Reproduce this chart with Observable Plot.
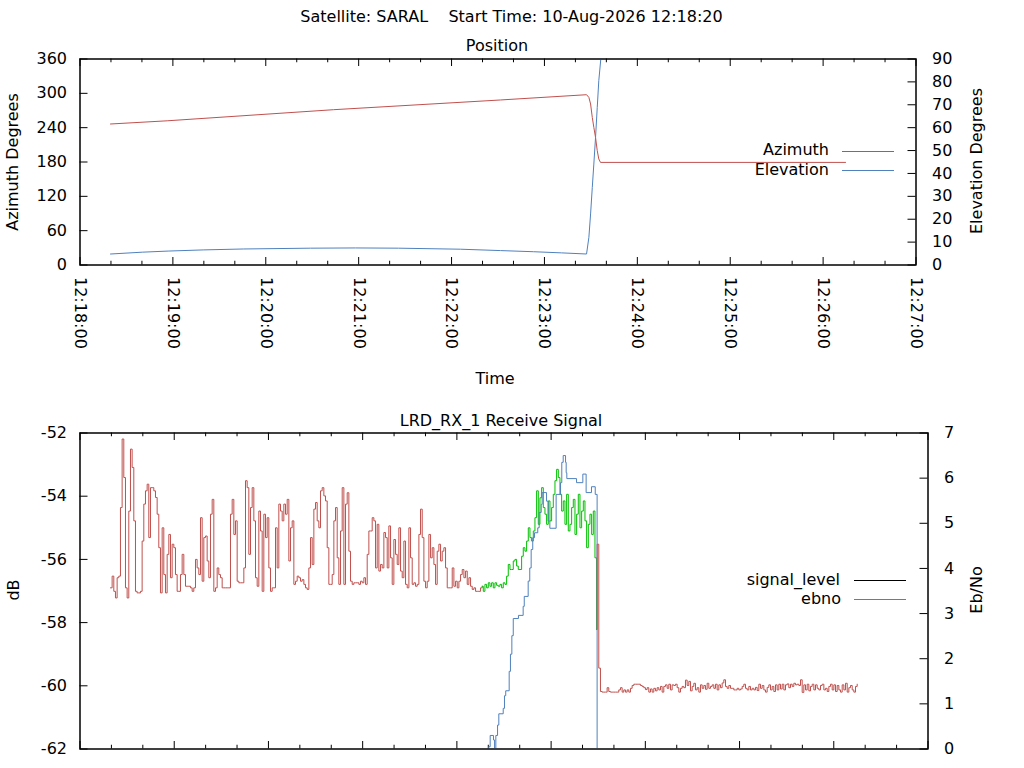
<!DOCTYPE html>
<html><head><meta charset="utf-8">
<script src="https://cdn.jsdelivr.net/npm/d3@7"></script>
<script src="https://cdn.jsdelivr.net/npm/@observablehq/plot@0.6"></script>
<style>
html,body{margin:0;padding:0;background:#fff;}
#page{position:relative;width:1024px;height:768px;overflow:hidden;font-family:"DejaVu Sans",sans-serif;font-size:16px;color:#000;background:#fff;}
.lbl{position:absolute;white-space:pre;line-height:16px;transform:translate(-50%,-50%);}
.lblv{position:absolute;white-space:pre;line-height:16px;transform:translate(-50%,-50%) rotate(-90deg);}
.lblr{position:absolute;white-space:pre;line-height:16px;text-align:right;}
.lg{position:absolute;height:0;border-top:1px solid #000;}
</style>
</head><body><div id="page"></div>
<script>
// ---------- data ----------
const timeBase = "2026-08-10T12:18:00Z";          // axis start, seconds below are offsets from it
const chartTitle = "Satellite: SARAL    Start Time: 10-Aug-2026 12:18:20";

// Position panel
const azSeconds = [19.7, 56.3, 163.8, 271.6, 327.2, 328.7, 329.8, 330.9, 331.9, 333.0, 334.1, 335.1, 336.2, 494.5];
const azValues  = [246.4, 252.0, 271.4, 288.4, 297.6, 292.9, 281.4, 257.9, 240.5, 223.0, 199.8, 185.3, 179.3, 179.3];
const elSeconds = [19.7, 40.2, 57.4, 80.0, 105.8, 148.9, 178.0, 205.7, 245.8, 271.6, 293.0, 311.0, 327.2, 328.7, 329.8, 330.9, 331.9, 333.0, 334.1, 335.1, 336.4, 337.5];
const elValues  = [4.8, 5.6, 6.1, 6.6, 7.0, 7.35, 7.45, 7.35, 6.9, 6.3, 5.8, 5.3, 4.8, 12.1, 22.3, 33.9, 44.1, 55.7, 68.8, 80.5, 90.0, 100.0];
const azTicks = [0, 60, 120, 180, 240, 300, 360];
const elTicks = [0, 10, 20, 30, 40, 50, 60, 70, 80, 90];

// Receive signal panel (signal level sampled at a regular interval)
const signalStep = 1.0616;
const signalStartA = 19.4;   // red, before lock
const signalLevelA = [
-56.90,-56.53,-57.01,-57.22,-56.58,-56.53,-54.36,-52.19,-53.41,-56.90,
-57.22,-54.47,-52.51,-53.09,-54.78,-57.01,-57.06,-57.06,-57.01,-55.42,
-54.25,-53.83,-53.62,-55.31,-53.73,-53.73,-53.83,-54.04,-54.57,-55.63,
-57.06,-55.00,-56.48,-57.06,-55.84,-55.21,-56.58,-55.52,-55.63,-56.48,
-57.01,-57.01,-56.48,-55.84,-56.48,-56.85,-56.85,-56.85,-56.90,-57.01,
-56.90,-56.00,-56.27,-56.48,-54.68,-56.69,-55.31,-55.26,-56.05,-56.58,
-54.57,-54.10,-57.01,-56.90,-56.27,-56.48,-56.58,-56.90,-56.90,-56.90,
-56.90,-56.90,-54.57,-54.10,-55.21,-54.78,-56.69,-56.74,-56.74,-56.74,
-56.27,-53.51,-53.73,-55.84,-54.36,-53.73,-54.78,-56.58,-56.85,-54.47,
-55.10,-57.01,-54.57,-55.31,-54.68,-56.27,-57.01,-56.90,-56.90,-55.00,
-56.27,-54.25,-54.47,-54.78,-54.25,-54.57,-54.10,-56.05,-55.00,-54.78,
-56.79,-56.69,-56.53,-56.58,-56.69,-56.64,-56.79,-56.90,-56.95,-56.27,
-55.31,-56.16,-54.41,-54.20,-54.78,-55.00,-53.83,-53.73,-53.99,-54.15,
-55.63,-56.79,-56.79,-56.48,-54.78,-54.36,-55.95,-56.79,-55.10,-53.73,
-56.79,-54.25,-53.89,-55.74,-56.69,-56.79,-56.74,-56.74,-56.74,-56.79,
-56.69,-56.74,-56.58,-56.79,-55.84,-55.10,-55.10,-54.68,-54.78,-56.27,
-54.89,-56.37,-56.16,-56.27,-55.15,-55.31,-56.27,-54.94,-55.95,-56.79,
-55.37,-55.84,-56.16,-55.00,-56.37,-56.58,-55.42,-56.79,-56.90,-55.00,
-55.95,-56.79,-56.74,-56.85,-56.79,-55.21,-54.41,-55.31,-56.69,-56.90,
-56.69,-55.21,-55.95,-55.63,-56.16,-56.79,-55.74,-55.52,-56.05,-55.74,
-55.63,-56.27,-56.90,-56.90,-56.90,-56.27,-56.85,-56.69,-56.90,-56.69,
-56.48,-56.32,-56.58,-56.37,-56.79,-56.58,-56.85,-56.95,-56.90,-57.01,
-57.01,-57.01,-56.90,-56.85];
const signalStartB = 256.8;  // green, locked
const signalLevelB = [
-57.01,-56.79,-56.90,-56.74,-56.85,-56.74,-56.90,-56.74,-56.82,-56.85,
-56.79,-56.90,-56.74,-56.79,-56.53,-56.16,-56.32,-56.32,-56.05,-56.00,
-56.21,-56.32,-56.32,-55.90,-55.63,-55.74,-55.42,-55.00,-55.31,-55.42,
-55.10,-54.68,-53.83,-54.89,-54.05,-53.73,-54.36,-54.57,-54.89,-54.15,
-54.78,-54.36,-53.94,-53.51,-53.15,-53.41,-53.94,-54.47,-54.15,-54.89,
-53.94,-55.10,-54.89,-54.36,-54.10,-55.21,-54.57,-53.94,-55.00,-54.47,
-54.15,-54.78,-55.63,-54.89,-54.57,-55.21,-54.47,-55.95,-58.22];
const signalStartC = 329.3;  // red, after loss of signal
const signalLevelC = [
-55.52,-59.44,-60.18,
-60.20,-60.20,-60.20,-60.06,-60.18,-60.20,-60.20,-60.20,-60.20,-60.20,
-60.13,-60.06,-60.20,-60.13,-60.20,-60.13,-60.20,-60.08,-59.99,-59.95,
-59.95,-59.95,-59.95,-59.99,-60.02,-60.06,-60.12,-60.06,-60.20,-60.10,
-60.20,-60.08,-60.16,-60.06,-60.13,-60.02,-60.20,-60.02,-59.97,-60.08,
-59.95,-60.13,-59.97,-59.99,-59.95,-60.06,-60.20,-60.08,-60.02,-60.06,
-59.82,-59.99,-59.86,-60.16,-60.02,-59.92,-60.13,-60.06,-60.20,-59.97,
-60.08,-59.99,-60.11,-59.92,-60.08,-60.02,-59.97,-60.08,-59.95,-60.13,
-59.97,-60.06,-59.91,-59.81,-60.02,-60.08,-59.99,-60.08,-60.08,-60.13,
-60.13,-60.08,-60.13,-60.10,-60.02,-59.95,-60.08,-60.13,-60.02,-60.13,
-60.08,-60.13,-60.05,-60.15,-59.95,-60.08,-59.99,-60.13,-60.20,-60.05,
-59.97,-60.13,-60.02,-60.18,-59.97,-60.13,-59.95,-60.10,-59.95,-60.13,
-59.97,-59.94,-60.06,-59.95,-60.02,-59.92,-59.97,-59.95,-59.99,-59.81,
-60.21,-59.97,-60.13,-59.95,-60.16,-60.02,-59.95,-60.13,-59.97,-60.08,
-60.13,-59.99,-59.95,-60.13,-60.08,-60.18,-60.02,-59.95,-60.13,-59.97,
-60.18,-59.99,-60.13,-60.20,-59.97,-60.13,-59.92,-60.20,-60.06,-59.99,
-60.13,-60.20,-60.02,-59.95];
const ebnoSeconds = [259.3,260.3,261.2,263.3,264.0,264.8,265.9,266.7,269.5,270.3,271.1,273.3,274.1,275.0,275.9,279.2,282.2,282.9,285.4,286.4,287.3,288.3,289.4,291.5,292.4,293.7,294.3,297.1,298.1,299.2,303.2,306.0,306.8,307.7,309.2,309.6,310.0,316.2,320.2,322.3,325.7,328.1,329.3];
const ebnoValues  = [0,0.05,0.30,0.20,0,0.30,0.53,0.78,0.90,1.18,1.29,1.72,2.10,2.51,2.89,2.96,3.16,3.38,3.72,4.01,4.42,4.68,4.79,4.90,5.24,5.42,5.68,5.49,5.05,4.89,5.64,5.90,6.35,6.50,6.35,6.12,5.99,5.90,6.09,5.68,5.81,5.64,0];
const dbTicks = [-62, -60, -58, -56, -54, -52];
const ebnoTicks = [0, 1, 2, 3, 4, 5, 6, 7];

// ---------- build ----------
const RED = "#c0504d", BLUE = "#4f81bd", GREEN = "#00c000";
const t0 = new Date(timeBase).getTime();
const T = s => new Date(t0 + s * 1000);
const xDomain = [T(0), T(540)];
const majorTicks = d3.utcMinute.range(T(0), T(541));
const minorTicks = d3.utcSecond.every(20).range(T(0), T(541)).filter(d => d.getUTCSeconds() !== 0);
const pairs = (secs, vals) => secs.map((s, i) => ({t: T(s), v: vals[i]}));
const series = (start, vals) => vals.map((v, i) => ({t: T(start + i * signalStep), v}));

const azData = pairs(azSeconds, azValues);
const elData = pairs(elSeconds, elValues);
const sigA = series(signalStartA, signalLevelA);
const sigB = [sigA[sigA.length - 1], ...series(signalStartB, signalLevelB)];
const sigC = [sigB[sigB.length - 1], ...series(signalStartC, signalLevelC)];
const ebnoData = pairs(ebnoSeconds, ebnoValues);

const page = document.getElementById("page");
const W = 1024;
const style = {background: "transparent", fontFamily: "DejaVu Sans", fontSize: "16px", color: "black", overflow: "visible"};

function place(svg, top) {
  svg.style.position = "absolute";
  svg.style.left = "0px";
  svg.style.top = top + "px";
  page.appendChild(svg);
}

function xTickMarks(fh, major, minor) {
  return [
    Plot.tickX(majorTicks, {x: d => d, insetTop: fh - major, stroke: "black"}),
    Plot.tickX(majorTicks, {x: d => d, insetBottom: fh - major, stroke: "black"}),
    Plot.tickX(minorTicks, {x: d => d, insetTop: fh - minor, stroke: "black"}),
    Plot.tickX(minorTicks, {x: d => d, insetBottom: fh - minor, stroke: "black"})
  ];
}

// ----- top panel -----
const topH = 400;
const topM = {marginTop: 58.5, marginBottom: 135.5, marginLeft: 79.5, marginRight: 108.5};
const topFW = W - topM.marginLeft - topM.marginRight;
const topFH = topH - topM.marginTop - topM.marginBottom;

const topMain = Plot.plot({
  width: W, height: topH, ...topM, style,
  x: {type: "utc", domain: xDomain},
  y: {domain: [0, 360]},
  marks: [
    Plot.line(azData, {x: "t", y: "v", stroke: RED, strokeWidth: 1, clip: true}),
    ...xTickMarks(topFH, 7.5, 3.75),
    Plot.tickY(azTicks, {y: d => d, insetRight: topFW - 8, stroke: "black"}),
    Plot.axisY({anchor: "left", ticks: azTicks, tickSize: 0, tickPadding: 13, label: null, tickFormat: d => String(d)}),
    Plot.axisX({anchor: "bottom", ticks: majorTicks, tickFormat: d3.utcFormat("%H:%M:%S"), tickRotate: 90, tickSize: 0, tickPadding: 12, label: null}),
    Plot.frame({stroke: "black"})
  ]
});
place(topMain, 0);

const topOver = Plot.plot({
  width: W, height: topH, ...topM, style,
  x: {type: "utc", domain: xDomain, axis: null},
  y: {domain: [0, 90]},
  marks: [
    Plot.line(elData, {x: "t", y: "v", stroke: BLUE, strokeWidth: 1, clip: true}),
    Plot.tickY(elTicks, {y: d => d, insetLeft: topFW - 8, stroke: "black"}),
    Plot.axisY({anchor: "right", ticks: elTicks, tickSize: 0, tickPadding: 16, label: null, tickFormat: d => String(d)}),
    Plot.frame({stroke: "black"})
  ]
});
place(topOver, 0);

// ----- bottom panel -----
const botTop = 400, botH = 368;
const botM = {marginTop: 32.5, marginBottom: 19.5, marginLeft: 79.5, marginRight: 96.5};
const botFW = W - botM.marginLeft - botM.marginRight;
const botFH = botH - botM.marginTop - botM.marginBottom;

const botMain = Plot.plot({
  width: W, height: botH, ...botM, style,
  x: {type: "utc", domain: xDomain, axis: null},
  y: {domain: [-62, -52]},
  marks: [
    Plot.line(sigA, {x: "t", y: "v", stroke: RED, strokeWidth: 1, curve: "step-after", clip: true}),
    Plot.line(sigB, {x: "t", y: "v", stroke: GREEN, strokeWidth: 1, curve: "step-after", clip: true}),
    Plot.line(sigC, {x: "t", y: "v", stroke: RED, strokeWidth: 1, curve: "step-after", clip: true}),
    ...xTickMarks(botFH, 7.5, 3.75),
    Plot.tickY(dbTicks, {y: d => d, insetRight: botFW - 8, stroke: "black"}),
    Plot.axisY({anchor: "left", ticks: dbTicks, tickSize: 0, tickPadding: 13, label: null, tickFormat: d => String(d)}),
    Plot.frame({stroke: "black"})
  ]
});
place(botMain, botTop);

const botOver = Plot.plot({
  width: W, height: botH, ...botM, style,
  x: {type: "utc", domain: xDomain, axis: null},
  y: {domain: [0, 7]},
  marks: [
    Plot.line(ebnoData, {x: "t", y: "v", stroke: BLUE, strokeWidth: 1, curve: "step-after", clip: true}),
    Plot.tickY(ebnoTicks, {y: d => d, insetLeft: botFW - 8, stroke: "black"}),
    Plot.axisY({anchor: "right", ticks: ebnoTicks, tickSize: 0, tickPadding: 16, label: null, tickFormat: d => String(d)}),
    Plot.frame({stroke: "black"})
  ]
});
place(botOver, botTop);

// ----- texts & legends -----
function label(text, x, y, vertical) {
  const d = document.createElement("div");
  d.className = vertical ? "lblv" : "lbl";
  d.textContent = text;
  d.style.left = x + "px";
  d.style.top = y + "px";
  page.appendChild(d);
}
function labelRight(text, xRight, yCenter) {
  const d = document.createElement("div");
  d.className = "lblr";
  d.textContent = text;
  d.style.right = (W - xRight) + "px";
  d.style.top = (yCenter - 8) + "px";
  page.appendChild(d);
}
function legendLine(x1, x2, y, color) {
  const d = document.createElement("div");
  d.className = "lg";
  d.style.left = x1 + "px";
  d.style.width = (x2 - x1) + "px";
  d.style.top = (y - 0.5) + "px";
  d.style.borderTopColor = color;
  page.appendChild(d);
}

label(chartTitle, 511.5, 17);
label("Position", 497, 46);
label("Azimuth Degrees", 13, 161.5, true);
label("Elevation Degrees", 976.5, 160.5, true);
label("Time", 495, 379);
label("LRD_RX_1 Receive Signal", 501, 421);
label("dB", 14, 590, true);
label("Eb/No", 977, 590, true);

labelRight("Azimuth", 829, 150);
legendLine(842, 894, 151, RED);
labelRight("Elevation", 829, 169.5);
legendLine(842, 894, 170, BLUE);

labelRight("signal_level", 840, 579.5);
legendLine(854, 906, 580, "#000");
labelRight("ebno", 841, 598.5);
legendLine(854, 906, 599, BLUE);
</script></body></html>
